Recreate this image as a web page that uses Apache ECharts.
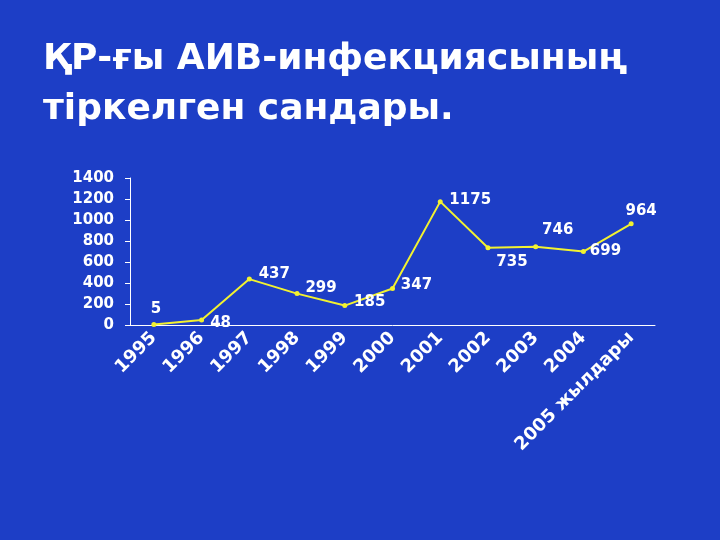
<!DOCTYPE html>
<html><head><meta charset="utf-8">
<script src="https://cdn.jsdelivr.net/npm/echarts@6/dist/echarts.min.js"></script>
<style>html,body{margin:0;background:#1d3ec6}#c{width:720px;height:540px}</style>
</head><body><div id="c"></div>
<script>
const categories=['1995','1996','1997','1998','1999','2000','2001','2002','2003','2004','2005 жылдары'];
const values=[5,48,437,299,185,347,1175,735,746,699,964];
const yTicks=[0,200,400,600,800,1000,1200,1400];
const labelOffsets=[[2,0],[19,18],[25,10],[24,10],[25,12],[24,12],[30,13],[24,29],[22,-2],[22,15],[10,2]];
const chart=echarts.init(document.getElementById('c'));
chart.setOption({
  backgroundColor:'#1d3ec6',
  title:{text:'ҚР-ғы АИВ-инфекциясының\nтіркелген сандары.',left:38,top:30,
    textStyle:{color:'#fff',fontSize:36,fontWeight:'bold',fontFamily:'DejaVu Sans',lineHeight:50}},
  grid:{left:130,right:65,top:178,bottom:215},
  xAxis:{type:'category',data:categories,boundaryGap:true,
    axisLine:{lineStyle:{color:'#fff',width:1}},axisTick:{lineStyle:{color:'#fff'},length:6},
    axisLabel:{color:'#fff',fontSize:18,fontWeight:'bold',fontFamily:'DejaVu Sans',rotate:45,margin:10,interval:0}},
  yAxis:{type:'value',min:0,max:1400,interval:200,splitLine:{show:false},
    axisLine:{show:true,lineStyle:{color:'#fff'}},axisTick:{show:true,lineStyle:{color:'#fff'}},
    axisLabel:{color:'#fff',fontSize:15,fontWeight:'bold',fontFamily:'DejaVu Sans',margin:16,
      formatter:v=>yTicks.includes(v)?String(v):''}},
  series:[{type:'line',data:values.map((v,i)=>({value:v,label:{offset:labelOffsets[i]}})),
    symbol:'circle',symbolSize:5,lineStyle:{color:'#f2f230',width:2},itemStyle:{color:'#f2f230'},
    label:{show:true,position:'top',color:'#fff',fontSize:15,fontWeight:'bold',fontFamily:'DejaVu Sans'}}]
});
</script></body></html>
